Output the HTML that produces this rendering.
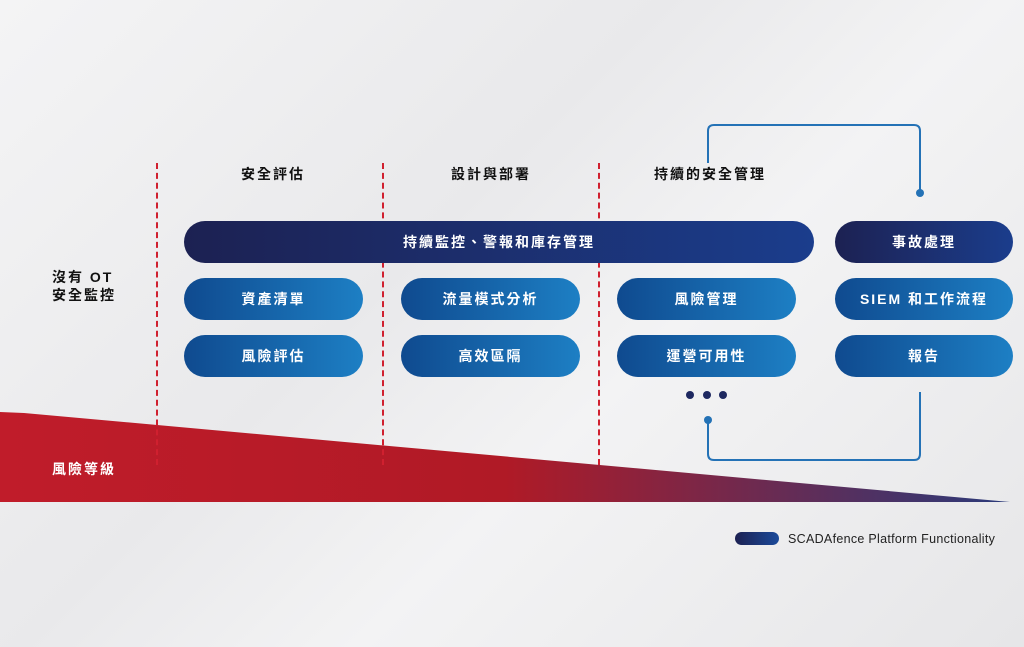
<!DOCTYPE html>
<html><head><meta charset="utf-8"><style>
body{margin:0;width:1024px;height:647px;overflow:hidden;background:linear-gradient(135deg,#f4f4f5 0%,#e9e9eb 40%,#f3f3f4 60%,#e6e6e8 100%);font-family:"Liberation Sans","Noto Sans CJK TC",sans-serif;position:relative}
.a{position:absolute}
.p{position:absolute;height:42px;border-radius:21px;color:#fff;font-weight:bold;font-size:14px;letter-spacing:2px;display:flex;align-items:center;justify-content:center;background:linear-gradient(90deg,#0f4a8f,#1d7fc4)}
.d{background:linear-gradient(90deg,#1c2152,#1b3d8c)}
.h{position:absolute;font-weight:bold;font-size:14px;letter-spacing:2px;color:#111;transform:translateX(-50%)}
.v{position:absolute;top:163px;height:302px;border-left:2px dashed #d0202f}
</style></head><body>
<svg class="a" style="left:0;top:0" width="1024" height="647">
<defs><linearGradient id="r" x1="0" x2="1"><stop offset="0" stop-color="#c01c2a"/><stop offset="0.5" stop-color="#b01a26"/><stop offset="1" stop-color="#2a3a7a"/></linearGradient></defs>
<polygon points="0,412 24,413 1010,502 0,502" fill="url(#r)"/>
<path d="M708 163 V131 Q708 125 714 125 H914 Q920 125 920 131 V193" fill="none" stroke="#2472b6" stroke-width="2"/>
<circle cx="920" cy="193" r="4" fill="#2472b6"/>
<path d="M920 392 V454 Q920 460 914 460 H714 Q708 460 708 454 V420" fill="none" stroke="#2472b6" stroke-width="2"/>
<circle cx="708" cy="420" r="4" fill="#2472b6"/>
<circle cx="690" cy="395" r="4" fill="#1e2860"/><circle cx="707" cy="395" r="4" fill="#1e2860"/><circle cx="723" cy="395" r="4" fill="#1e2860"/>
</svg>
<div class="v" style="left:156px"></div><div class="v" style="left:382px"></div><div class="v" style="left:598px"></div>
<div class="h" style="left:273px;top:164px">安全評估</div>
<div class="h" style="left:491px;top:164px">設計與部署</div>
<div class="h" style="left:710px;top:164px">持續的安全管理</div>
<div class="a" style="left:52px;top:268px;font-weight:bold;font-size:14px;letter-spacing:2px;line-height:18px;color:#111">沒有 OT<br>安全監控</div>
<div class="a" style="left:52px;top:459px;font-weight:bold;font-size:14px;letter-spacing:2px;color:#fff">風險等級</div>
<div class="p d" style="left:184px;top:221px;width:630px">持續監控、警報和庫存管理</div>
<div class="p d" style="left:835px;top:221px;width:178px">事故處理</div>
<div class="p" style="left:184px;top:278px;width:179px">資產清單</div>
<div class="p" style="left:401px;top:278px;width:179px">流量模式分析</div>
<div class="p" style="left:617px;top:278px;width:179px">風險管理</div>
<div class="p" style="left:835px;top:278px;width:178px">SIEM 和工作流程</div>
<div class="p" style="left:184px;top:335px;width:179px">風險評估</div>
<div class="p" style="left:401px;top:335px;width:179px">高效區隔</div>
<div class="p" style="left:617px;top:335px;width:179px">運營可用性</div>
<div class="p" style="left:835px;top:335px;width:178px">報告</div>
<div class="a" style="left:735px;top:532px;width:44px;height:13px;border-radius:7px;background:linear-gradient(90deg,#1c2152,#1b4a9a)"></div>
<div class="a" style="left:788px;top:532px;font-size:12.5px;letter-spacing:0.3px;color:#222">SCADAfence Platform Functionality</div>
</body></html>
